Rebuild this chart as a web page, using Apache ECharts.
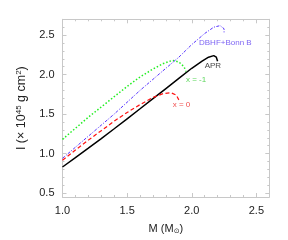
<!DOCTYPE html>
<html><head><meta charset="utf-8">
<script src="https://cdn.jsdelivr.net/npm/echarts@6/dist/echarts.min.js"></script>
<style>html,body{margin:0;padding:0;background:#fff}#c{width:288px;height:240px}</style>
</head><body><div id="c"></div>
<script>
const xTicks = [1.0, 1.5, 2.0, 2.5];
const yTicks = [0.5, 1.0, 1.5, 2.0, 2.5];
const yMinorTicks = [0.5,0.6,0.7,0.8,0.9,1.0,1.1,1.2,1.3,1.4,1.5,1.6,1.7,1.8,1.9,2.0,2.1,2.2,2.3,2.4,2.5,2.6,2.7];
const apr = [[1.0,0.83],[1.1,0.948],[1.2,1.068],[1.3,1.19],[1.4,1.314],[1.5,1.44],[1.6,1.567],[1.7,1.695],[1.8,1.823],[1.9,1.951],[2.0,2.08],[2.08,2.17],[2.13,2.22],[2.17,2.24],[2.19,2.22],[2.2,2.17]];
const xm1 = [[1.0,1.18],[1.1,1.32],[1.2,1.46],[1.3,1.59],[1.4,1.72],[1.5,1.85],[1.6,1.97],[1.7,2.07],[1.78,2.14],[1.85,2.18],[1.9,2.16],[1.94,2.10],[1.955,2.04]];
const dbhf = [[1.0,0.94],[1.1,1.08],[1.2,1.22],[1.3,1.36],[1.4,1.50],[1.5,1.65],[1.6,1.80],[1.7,1.94],[1.8,2.08],[1.9,2.22],[2.0,2.38],[2.1,2.52],[2.17,2.60],[2.22,2.62],[2.25,2.58],[2.25,2.52]];
const x0 = [[1.0,0.915],[1.1,1.045],[1.2,1.17],[1.3,1.29],[1.4,1.41],[1.5,1.52],[1.6,1.62],[1.7,1.71],[1.78,1.76],[1.84,1.77],[1.88,1.74],[1.9,1.68]];
const labelTexts = ['DBHF+Bonn B', 'APR', 'x = -1', 'x = 0'];
const labelPos = [[2.056,2.40],[2.10,2.11],[1.955,1.94],[1.853,1.615]];
const labelColors = ['#5b3cf0', '#111', '#33cc33', '#ee2222'];

const FONT = 'Liberation Sans';
const chart = echarts.init(document.getElementById('c'), null, {renderer:'canvas'});
const gray = '#c8c8c8';
function xax(extra){
  return Object.assign({
    type:'value', min:1.0, max:2.6, interval:0.5,
    axisLine:{show:true,lineStyle:{color:gray,width:1}},
    axisTick:{show:true,inside:true,length:4,lineStyle:{color:gray}},
    minorTick:{show:true,splitNumber:5,length:2,lineStyle:{color:gray}},
    splitLine:{show:false}
  }, extra);
}
function yax(pos, major, extra){
  return Object.assign({
    type:'value', min:0.45, max:2.7, position:pos,
    axisLine:{show:major,lineStyle:{color:gray,width:1}},
    axisTick:{show:true,inside:true,length:major?4:2,lineStyle:{color:gray},
      customValues: major ? yTicks : yMinorTicks},
    axisLabel:{show:false},
    splitLine:{show:false}
  }, extra);
}
const labelSeries = {
  type:'scatter', symbolSize:0, silent:true,
  data: labelPos.map((p,i)=>({value:p, name:labelTexts[i],
    label:{show:true, position:'right', distance:0, formatter:'{b}', color:labelColors[i],
      fontFamily:FONT, fontSize:8}})),
  z:10
};
chart.setOption({
  animation:false,
  grid:{left:62.5, right:18.7, top:19.3, bottom:40.7},
  xAxis:[xax({position:'bottom',
      axisLabel:{color:'#222',fontFamily:FONT,fontSize:11,margin:8,
        formatter:v=>xTicks.includes(+v.toFixed(2))?v.toFixed(1):''},
      name:'{a|M (M}{b|⊙}{a|)}', nameLocation:'middle', nameGap:25,
      nameTextStyle:{rich:{a:{fontFamily:FONT,fontSize:11,color:'#222'},b:{fontFamily:'DejaVu Sans',fontSize:7,color:'#222',padding:[6,0,0,0]}}}}),
    xax({position:'top',axisLabel:{show:false}})],
  yAxis:[
    yax('left', true, {
      axisLabel:{show:true,color:'#222',fontFamily:FONT,fontSize:11,margin:8,
        customValues:yTicks, formatter:v=>v.toFixed(1)},
      name:'{a|I (× 10}{s|45}{a| g cm}{s|2}{a|)}', nameLocation:'middle', nameGap:29,
      nameTextStyle:{rich:{a:{fontFamily:FONT,fontSize:12.5,color:'#222'},s:{fontFamily:FONT,fontSize:8,color:'#222',padding:[0,0,7,0]}}}}),
    yax('left', false, {}),
    yax('right', true, {}),
    yax('right', false, {})
  ],
  series:[
    {type:'line', data:apr, showSymbol:false, lineStyle:{color:'#000',width:1.5}, z:3},
    {type:'line', data:xm1, showSymbol:false, lineStyle:{color:'#22ee22',width:1.5,type:[1.5,2]}, z:3},
    {type:'line', data:dbhf, showSymbol:false, lineStyle:{color:'#5533ff',width:1,type:[3,1.5,1,1.5]}, z:3},
    {type:'line', data:x0, showSymbol:false, lineStyle:{color:'#ff1111',width:1.2,type:[4,2.5]}, z:3},
    labelSeries
  ]
});
</script></body></html>
